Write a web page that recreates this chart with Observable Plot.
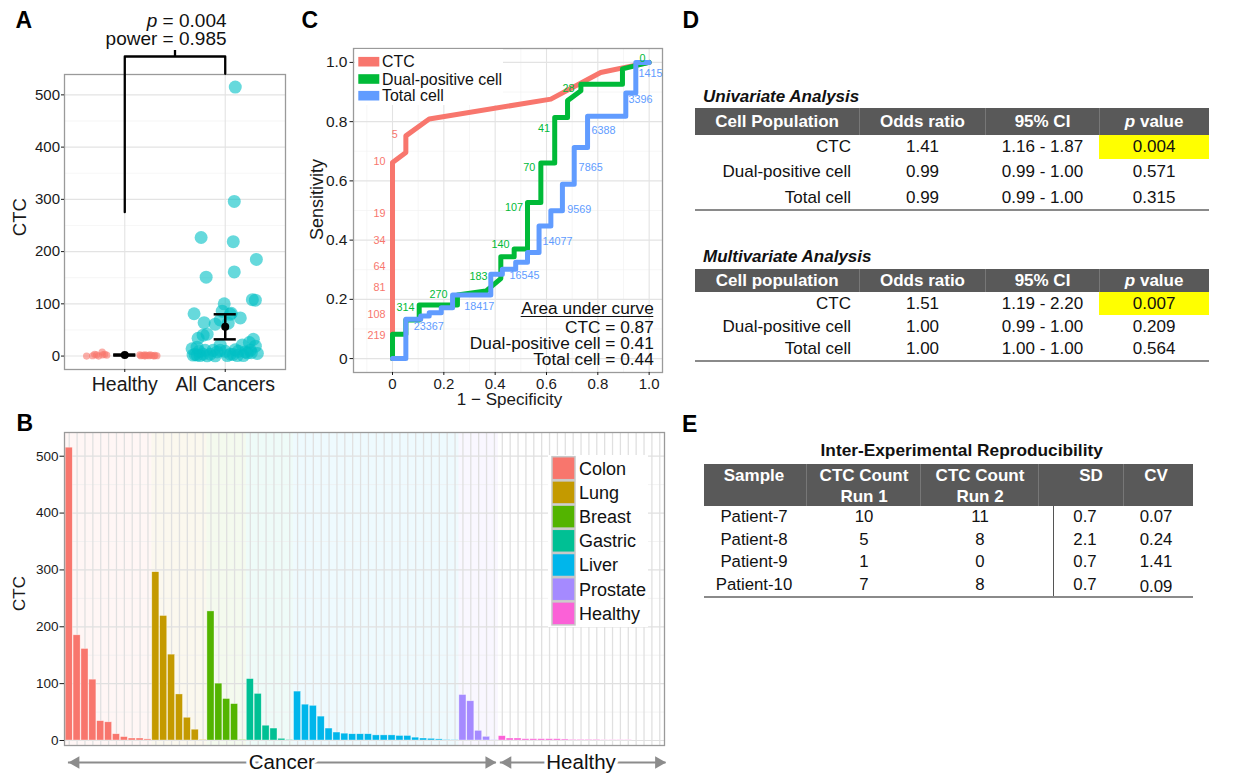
<!DOCTYPE html>
<html><head><meta charset="utf-8">
<script src="https://cdn.jsdelivr.net/npm/d3@7"></script>
<script src="https://cdn.jsdelivr.net/npm/@observablehq/plot@0.6"></script>
<style>
html,body{margin:0;padding:0;background:#fff;overflow:hidden;}
#page{position:relative;width:1244px;height:774px;overflow:hidden;font-family:"Liberation Sans",Arial,Helvetica,sans-serif;color:#111;}
.panel{position:absolute;}
.panel svg{display:block;overflow:visible;}
</style></head>
<body><div id="page"></div>
<script>
// ================= DATA =================
// Panel B / A : CTC counts per sample, by group
const groupNames = ["Colon","Lung","Breast","Gastric","Liver","Prostate","Healthy"];
const groupColors = ["#F8766D","#C49A00","#53B400","#00C094","#00B6EB","#A58AFF","#FB61D7"];
const colonCTC = [515,185,161,107,34,32,11,6,3.5,3.5,2];
const lungCTC = [296,219,151,81,40,19,1];
const breastCTC = [227,100,73,64,1];
const gastricCTC = [108,82,26,21,3,1];
const liverCTC = [86,63,61,42,21,14,12,11,11,11,9,9,9,8,8,5,3.5,3,2,1,0.5];
const prostateCTC = [80,69,17,6.5,0.5];
const healthyCTC = [7.6,3.5,3.5,2.3,2.3,2.3,2.3,2.3,1.8,1.2,1.2,1.2,1.2,0.6,0.6,0.6,0.6,0,0,0,0];

// Panel A
const aCategories = ["Healthy","All Cancers"];
const healthyJitter = [-0.225,-0.3,-0.2,-0.28,-0.22,0.15,0.2,0.25,-0.18,0.3,0.18,0.22,0.27,-0.32,0.32,0.16,0.24,-0.38,-0.26,0.29,0.2];
const cancerJitter = [0.10,0.31,0.09,0.30,-0.27,0.28,-0.05,0.22,-0.15,0.05,-0.28,
  0.09,0.08,-0.19,-0.31,-0.22,0.30,-0.25,
  -0.24,-0.01,0.15,-0.21,0.12,
  0.27,0.06,0.24,-0.05,-0.30,0.02,
  -0.03,0.03,-0.10,-0.18,0.17,-0.33,0.10,-0.20,0.25,-0.12,0.13,-0.26,0.0,0.20,-0.08,0.32,-0.22,0.08,-0.32,0.18,-0.10,
  0.05,-0.05,-0.28,0.26,-0.18];
const aMean = [2, 56];
const aLow = [1, 32];
const aHigh = [3, 80];
const sigText = ["p = 0.004", "power = 0.985"];
const sigTextY = [641, 607.4];
const bracketY = [275.5, 573.5, 540.4];
const bracketTickY = 585;

// Panel C : ROC curves
const rocSeries = ["CTC","Dual-positive cell","Total cell"];
const rocColors = ["#F8766D","#00BA38","#619CFF"];
const ctcFPR = [0,0,0.052,0.052,0.143,0.617,0.811,1.0];
const ctcTPR = [0,0.662,0.696,0.752,0.809,0.876,0.966,1.0];
const dualFPR = [0,0,0.052,0.052,0.104,0.104,0.253,0.253,0.364,0.422,0.422,0.474,0.474,0.526,0.526,0.578,0.578,0.632,0.632,0.682,0.682,0.734,0.734,0.896,0.896,1.0];
const dualTPR = [0,0.082,0.082,0.13,0.13,0.181,0.181,0.215,0.228,0.27,0.344,0.344,0.37,0.37,0.527,0.527,0.66,0.66,0.814,0.814,0.871,0.904,0.926,0.926,0.978,1.0];
const totalFPR = [0,0.052,0.052,0.110,0.110,0.143,0.143,0.19,0.19,0.234,0.234,0.383,0.383,0.428,0.428,0.48,0.48,0.526,0.526,0.571,0.571,0.617,0.617,0.662,0.662,0.708,0.708,0.76,0.76,0.909,0.909,0.948,0.948,1.0];
const totalTPR = [0,0,0.133,0.133,0.144,0.144,0.155,0.155,0.172,0.172,0.215,0.215,0.285,0.285,0.302,0.302,0.325,0.325,0.358,0.358,0.448,0.448,0.499,0.499,0.589,0.589,0.713,0.713,0.818,0.818,0.897,0.897,1.0,1.0];
const ctcCutoffs = ["5","10","19","34","64","81","108","219"];
const ctcCutoffX = [0.02,-0.027,-0.027,-0.027,-0.027,-0.027,-0.027,-0.027];
const ctcCutoffY = [0.756,0.666,0.489,0.399,0.311,0.239,0.149,0.078];
const dualCutoffs = ["314","270","183","140","107","70","41","28","0"];
const dualCutoffX = [0.051,0.179,0.335,0.421,0.473,0.533,0.59,0.686,0.974];
const dualCutoffY = [0.171,0.216,0.278,0.384,0.509,0.644,0.778,0.913,1.012];
const totalCutoffs = ["23367","18417","16545","14077","9569","7865","6388","3396","1415"];
const totalCutoffX = [0.1415,0.338,0.514,0.643,0.728,0.772,0.822,0.966,1.005];
const totalCutoffY = [0.108,0.177,0.281,0.396,0.503,0.644,0.77,0.875,0.964];
const aucTitle = "Area under curve";
const aucValues = [0.87, 0.41, 0.44];

// Panel D : logistic regression tables
const dHeaderUni = ["Cell Population","Odds ratio","95% CI","p value"];
const dHeaderMulti = ["Cell population","Odds ratio","95% CI","p value"];
const dPopulations = ["CTC","Dual-positive cell","Total cell"];
const uniOdds = ["1.41","0.99","0.99"];
const uniCI = ["1.16 - 1.87","0.99 - 1.00","0.99 - 1.00"];
const uniP = ["0.004","0.571","0.315"];
const multiOdds = ["1.51","1.00","1.00"];
const multiCI = ["1.19 - 2.20","0.99 - 1.00","1.00 - 1.00"];
const multiP = ["0.007","0.209","0.564"];

// Panel E : reproducibility table
const eTitle = "Inter-Experimental Reproducibility";
const eHeader = [["Sample",""],["CTC Count","Run 1"],["CTC Count","Run 2"],["SD",""],["CV",""]];
const eSamples = ["Patient-7","Patient-8","Patient-9","Patient-10"];
const eRun1 = [10,5,1,7];
const eRun2 = [11,8,0,8];
const eSD = ["0.7","2.1","0.7","0.7"];
const eCV = ["0.07","0.24","1.41","0.09"];

// ================= HELPERS =================
const FONT = '"Liberation Sans", Arial, Helvetica, sans-serif';
const page = document.getElementById("page");
const baseStyle = {fontFamily: FONT, background: "transparent", color: "#1a1a1a", overflow: "visible"};
const MAJOR = {stroke: "#e3e3e3", strokeOpacity: 1, strokeWidth: 1.1};
const MINOR = {stroke: "#f0f0f0", strokeOpacity: 1, strokeWidth: 0.6};
const FRAME = {stroke: "#9a9a9a", strokeWidth: 1.3};

function place(el, left, top, w, h) {
  const d = document.createElement("div");
  d.className = "panel";
  d.style.left = left + "px"; d.style.top = top + "px";
  d.style.width = w + "px"; d.style.height = h + "px";
  d.appendChild(el); page.appendChild(d);
}
function txt(content, x, y, o = {}) {
  const {anchor = "middle", size = 17, weight = "normal", italic = false, color = "#111", html = false} = o;
  const d = document.createElement("div"), s = d.style;
  s.position = "absolute"; s.whiteSpace = "nowrap";
  s.fontSize = size + "px"; s.lineHeight = size + "px"; s.height = size + "px";
  s.fontWeight = weight; s.fontStyle = italic ? "italic" : "normal"; s.color = color;
  s.top = (y - size / 2) + "px";
  if (anchor === "middle") { s.left = x + "px"; s.transform = "translateX(-50%)"; }
  else if (anchor === "end") { s.right = (1244 - x) + "px"; }
  else { s.left = x + "px"; }
  if (html) d.innerHTML = content; else d.textContent = content;
  page.appendChild(d);
}
function box(x, y, w, h, color) {
  const d = document.createElement("div"), s = d.style;
  s.position = "absolute"; s.left = x + "px"; s.top = y + "px"; s.width = w + "px"; s.height = h + "px"; s.background = color;
  page.appendChild(d);
}
const CENTER = {textAnchor: "middle", lineAnchor: "middle"};

// ================= PANEL A =================
const cancerCTC = [].concat(colonCTC, lungCTC, breastCTC, gastricCTC, liverCTC, prostateCTC);
const healthyPts = healthyCTC.map((v, i) => ({x: 1 + healthyJitter[i], y: v}));
const cancerPts = cancerCTC.map((v, i) => ({x: 2 + cancerJitter[i], y: v}));
const summary = aCategories.map((c, i) => ({x: i + 1, mean: aMean[i], lo: aLow[i], hi: aHigh[i]}));
const bracket = [{x: 1, y: bracketY[0]}, {x: 1, y: bracketY[1]}, {x: 2, y: bracketY[1]}, {x: 2, y: bracketY[2]}];
const capHalf = 0.11;

const plotA = Plot.plot({
  width: 300, height: 400, marginLeft: 64, marginRight: 15, marginTop: 74, marginBottom: 31,
  x: {domain: [0.4, 2.6]}, y: {domain: [-25.7, 539]},
  style: baseStyle,
  marks: [
    Plot.gridY([50, 150, 250, 350, 450], MINOR),
    Plot.gridY([0, 100, 200, 300, 400, 500], MAJOR),
    Plot.gridX([1, 2], MAJOR),
    Plot.frame(FRAME),
    Plot.axisY({ticks: [0, 100, 200, 300, 400, 500], tickSize: 3, tickPadding: 1.5, fontSize: 15, label: null}),
    Plot.axisX({ticks: [1, 2], tickFormat: d => aCategories[d - 1], tickSize: 3, tickPadding: 4.5, fontSize: 19.5, label: null}),
    Plot.text(["CTC"], {text: d => d, frameAnchor: "left", rotate: -90, dx: -44, dy: -4.8, fontSize: 18.5, ...CENTER}),
    Plot.dot(healthyPts, {x: "x", y: "y", r: 3.6, fill: "#F8766D", fillOpacity: 0.6}),
    Plot.dot(cancerPts, {x: "x", y: "y", r: 6.5, fill: "#00BFC4", fillOpacity: 0.6}),
    Plot.ruleX(summary, {x: "x", y1: "lo", y2: "hi", stroke: "black", strokeWidth: 2.5}),
    Plot.ruleY(summary, {y: "lo", x1: d => d.x - capHalf, x2: d => d.x + capHalf, stroke: "black", strokeWidth: 2.5}),
    Plot.ruleY(summary, {y: "hi", x1: d => d.x - capHalf, x2: d => d.x + capHalf, stroke: "black", strokeWidth: 2.5}),
    Plot.dot(summary, {x: "x", y: "mean", r: 4, fill: "black"}),
    Plot.line(bracket, {x: "x", y: "y", stroke: "black", strokeWidth: 2.3}),
    Plot.ruleX([1.5], {x: d => d, y1: bracketY[1], y2: bracketTickY, stroke: "black", strokeWidth: 2.3}),
    Plot.text(sigText, {text: d => d, x: 2.013, y: (d, i) => sigTextY[i], textAnchor: "end", fontSize: 19, fill: "#111"})
  ]
});
d3.select(plotA).selectAll("text").each(function () {
  if (this.textContent === sigText[0]) {
    const t = d3.select(this);
    t.text(null);
    t.append("tspan").attr("font-style", "italic").text(sigText[0].slice(0, 1));
    t.append("tspan").text(sigText[0].slice(1));
  }
});
place(plotA, 0, 0, 300, 400);

// ================= PANEL B =================
const groupValues = [colonCTC, lungCTC, breastCTC, gastricCTC, liverCTC, prostateCTC, healthyCTC];
const samples = [], spans = [];
groupValues.forEach((vals, gi) => {
  const start = samples.length;
  vals.forEach(v => samples.push({i: samples.length, group: groupNames[gi], v}));
  spans.push({group: groupNames[gi], start, end: samples.length - 1});
});
const N = samples.length;
const xDomB = [-0.6, N - 1 + 0.6];
const yDomB = [-8.8, 541.7];
const B = {w: 680, h: 374, ml: 64, mr: 16, mt: 32, mb: 29, top: 400};
const stepB = (B.w - B.ml - B.mr) / (xDomB[1] - xDomB[0]);
const pxuB = (B.h - B.mt - B.mb) / (yDomB[1] - yDomB[0]);
const bx = px => xDomB[0] + (px - B.ml) / stepB;                  // page x -> index
const by = py => yDomB[1] - (py - B.top - B.mt) / pxuB;          // page y -> value

const cancerSpan = {a: spans[0].start, b: spans[5].end};
const healthySpan = {a: spans[6].start, b: spans[6].end};
const arrowY = by(762);
const arrowLines = [
  {label: "Cancer", a: cancerSpan.a - 0.1, b: cancerSpan.b + 0.25, mid: (cancerSpan.a + cancerSpan.b) / 2},
  {label: "Healthy", a: healthySpan.a - 0.25, b: healthySpan.b + 0.8, mid: (healthySpan.a + healthySpan.b) / 2}
];
const headOff = 7.3 / stepB;
const arrowHeads = arrowLines.flatMap(d => [{x: d.a + headOff, rot: -90}, {x: d.b - headOff, rot: 90}]);
const legendB = groupNames.map((g, k) => ({g, top: 456.7 + 24.2 * k}));

const plotB = Plot.plot({
  width: B.w, height: B.h, marginLeft: B.ml, marginRight: B.mr, marginTop: B.mt, marginBottom: B.mb,
  x: {domain: xDomB, axis: null}, y: {domain: yDomB},
  color: {domain: groupNames, range: groupColors},
  style: baseStyle,
  marks: [
    Plot.rect(spans.filter(s => s.group !== "Healthy"), {
      x1: s => s.start === 0 ? xDomB[0] : s.start - 0.5, x2: s => s.end + 0.5,
      y1: yDomB[0], y2: yDomB[1], fill: "group", fillOpacity: 0.065
    }),
    Plot.gridY([50, 150, 250, 350, 450], {stroke: "#ececec", strokeOpacity: 1, strokeWidth: 0.7}),
    Plot.gridY([0, 100, 200, 300, 400, 500], {stroke: "#e0e0e0", strokeOpacity: 1, strokeWidth: 1.2}),
    Plot.ruleX(samples, {x: "i", stroke: "#e0e0e0", strokeWidth: 1.3}),
    Plot.rect(samples, {x1: d => d.i - 0.45, x2: d => d.i + 0.45, y1: 0, y2: "v", fill: "group", stroke: "white", strokeWidth: 0.6, strokeOpacity: 0.6}),
    Plot.frame(FRAME),
    Plot.axisY({ticks: [0, 100, 200, 300, 400, 500], tickSize: 4.5, tickPadding: 1.5, fontSize: 13.5, label: null}),
    Plot.text(["CTC"], {text: d => d, frameAnchor: "left", rotate: -90, dx: -45, dy: 4.5, fontSize: 17, ...CENTER}),
    // legend
    Plot.rect([0], {x1: bx(548), x2: bx(648), y1: by(627), y2: by(455), fill: "white"}),
    Plot.rect(legendB, {x1: bx(552), x2: bx(575), y1: d => by(d.top + 23), y2: d => by(d.top), fill: "g", stroke: "#c8c8c8", strokeWidth: 1.5}),
    Plot.text(legendB, {x: bx(578.5), y: d => by(d.top + 11.6), text: "g", textAnchor: "start", fontSize: 18, fill: "#111"}),
    // group arrows
    Plot.ruleY(arrowLines, {y: arrowY, x1: "a", x2: "b", stroke: "#8c8c8c", strokeWidth: 2}),
    Plot.dot(arrowHeads, {x: "x", y: arrowY, symbol: "triangle", r: 4.7, fill: "#8c8c8c", rotate: "rot"}),
    Plot.text(arrowLines, {x: "mid", y: arrowY, text: "label", fontSize: 20.5, fill: "#111", stroke: "white", strokeWidth: 7})
  ]
});
place(plotB, 0, B.top, B.w, B.h);

// ================= PANEL C =================
const rocData = [].concat(
  ctcFPR.map((f, i) => ({series: rocSeries[0], fpr: f, tpr: ctcTPR[i]})),
  dualFPR.map((f, i) => ({series: rocSeries[1], fpr: f, tpr: dualTPR[i]})),
  totalFPR.map((f, i) => ({series: rocSeries[2], fpr: f, tpr: totalTPR[i]}))
);
const lab = (names, xs, ys) => names.map((t, i) => ({t, x: xs[i], y: ys[i]}));
const C = {w: 380, h: 400, ml: 53, mr: 18, mt: 48, mb: 28, left: 300};
const xDomC = [-0.152, 1.052], yDomC = [-0.047, 1.047];
const cxu = (C.w - C.ml - C.mr) / (xDomC[1] - xDomC[0]);
const cyu = (C.h - C.mt - C.mb) / (yDomC[1] - yDomC[0]);
const cx = px => xDomC[0] + (px - C.left - C.ml) / cxu;
const cy = py => yDomC[1] - (py - C.mt) / cyu;
const legendC = rocSeries.map((s, k) => ({s, yc: [61.7, 79, 95.7][k]}));
const aucLines = [aucTitle].concat(rocSeries.map((s, i) => `${s} = ${aucValues[i].toFixed(2)}`));
const aucYs = [308.3, 326.7, 342.7, 358.7];
const tickFmt = d => d === 0 ? "0" : d.toFixed(1);

const plotC = Plot.plot({
  width: C.w, height: C.h, marginLeft: C.ml, marginRight: C.mr, marginTop: C.mt, marginBottom: C.mb,
  x: {domain: xDomC}, y: {domain: yDomC},
  color: {domain: rocSeries, range: rocColors},
  style: baseStyle,
  marks: [
    Plot.gridX([-0.1, 0.1, 0.3, 0.5, 0.7, 0.9], MINOR),
    Plot.gridY([0.1, 0.3, 0.5, 0.7, 0.9], MINOR),
    Plot.gridX([0, 0.2, 0.4, 0.6, 0.8, 1], MAJOR),
    Plot.gridY([0, 0.2, 0.4, 0.6, 0.8, 1], MAJOR),
    Plot.frame(FRAME),
    Plot.axisY({ticks: [0, 0.2, 0.4, 0.6, 0.8, 1], tickFormat: tickFmt, tickSize: 3.5, tickPadding: 2.5, fontSize: 15.5, label: null}),
    Plot.axisX({ticks: [0, 0.2, 0.4, 0.6, 0.8, 1], tickFormat: tickFmt, tickSize: 3, tickPadding: 2.5, fontSize: 15, label: null}),
    Plot.text(["Sensitivity"], {text: d => d, frameAnchor: "left", rotate: -90, dx: -36, dy: -11, fontSize: 18, ...CENTER}),
    Plot.text(["1 \u2212 Specificity"], {text: d => d, frameAnchor: "bottom", dx: 1.5, dy: 27.5, fontSize: 17, ...CENTER}),
    // legend box (drawn under curves)
    Plot.rect([0], {x1: cx(355), x2: cx(503), y1: cy(105), y2: cy(49), fill: "white"}),
    Plot.rect(legendC, {x1: cx(358.3), x2: cx(379.3), y1: d => cy(d.yc + 4.8), y2: d => cy(d.yc - 4.8), fill: "s"}),
    Plot.text(legendC, {x: cx(381.5), y: d => cy(d.yc), text: "s", textAnchor: "start", fontSize: 15.9, fill: "#111"}),
    Plot.line(rocData, {x: "fpr", y: "tpr", z: "series", stroke: "series", strokeWidth: 5, strokeLinejoin: "round"}),
    Plot.text(lab(ctcCutoffs, ctcCutoffX, ctcCutoffY), {x: "x", y: "y", text: "t", textAnchor: "end", fill: rocColors[0], fontSize: 10.8}),
    Plot.text(lab(dualCutoffs, dualCutoffX, dualCutoffY), {x: "x", y: "y", text: "t", fill: rocColors[1], fontSize: 10.8}),
    Plot.text(lab(totalCutoffs, totalCutoffX, totalCutoffY), {x: "x", y: "y", text: "t", fill: rocColors[2], fontSize: 10.8}),
    Plot.text(aucLines, {text: d => d, x: cx(653.3), y: (d, i) => cy(aucYs[i]), textAnchor: "end", fontSize: 17.3, fill: "#111"}),
    Plot.ruleY([0], {y: cy(316), x1: cx(520.7), x2: cx(653.3), stroke: "#111", strokeWidth: 1.2})
  ]
});
place(plotC, C.left, 0, C.w, C.h);

// ================= PANEL D (tables) =================
function statTable(title, titleY, header, headTop, headBot, rowYs, cols, yellowBot, ruleY) {
  const edges = [695, 859.3, 985.7, 1099.3, 1209];
  txt(title, 703, titleY, {anchor: "start", weight: "bold", italic: true, size: 17});
  box(edges[0], headTop, edges[4] - edges[0], headBot - headTop, "#595959");
  [1, 2, 3].forEach(k => box(edges[k] - 0.5, headTop, 1, headBot - headTop, "#777"));
  box(edges[3], headBot, edges[4] - edges[3], yellowBot - headBot, "#ffff00");
  const hc = (headTop + headBot) / 2;
  header.forEach((h, k) => {
    const mid = (edges[k] + edges[k + 1]) / 2;
    const html = h.startsWith("p ") ? `<i>p</i>${h.slice(1)}` : h;
    txt(html, mid, hc, {weight: "bold", color: "#fff", size: 17, html: true});
  });
  rowYs.forEach((y, r) => {
    txt(cols[0][r], 851, y, {anchor: "end", size: 17});
    for (let k = 1; k < 4; k++) txt(cols[k][r], (edges[k] + edges[k + 1]) / 2, y, {size: 17});
  });
  box(edges[0], ruleY - 1, edges[4] - edges[0], 2, "#8a8a8a");
}
statTable("Univariate Analysis", 96.7, dHeaderUni, 108.3, 135, [146.5, 171.5, 197], [dPopulations, uniOdds, uniCI, uniP], 159, 210);
statTable("Multivariate Analysis", 256.7, dHeaderMulti, 269.3, 292.3, [303, 326.7, 348], [dPopulations, multiOdds, multiCI, multiP], 315, 361);

// ================= PANEL E (table) =================
(function () {
  const L = 704, R = 1192.7, hTop = 464, hBot = 506, rule = 597.3;
  const centers = [754, 864, 980, 1088, 1156];
  txt(eTitle, 961.7, 450.7, {weight: "bold", size: 17.3});
  box(L, hTop, R - L, hBot - hTop, "#595959");
  [806.7, 920, 1038.3, 1123.3].forEach(x => box(x - 0.5, hTop, 1, hBot - hTop, "#777"));
  eHeader.forEach((h, k) => {
    if (h[1]) { txt(h[0], centers[k], 475, {weight: "bold", color: "#fff", size: 17}); txt(h[1], centers[k], 496, {weight: "bold", color: "#fff", size: 17}); }
    else txt(h[0], centers[k] + (k === 3 ? 3 : 0), 475, {weight: "bold", color: "#fff", size: 17});
  });
  const rowYs = [517, 540.5, 562, 585.5];
  rowYs.forEach((y, r) => {
    txt(eSamples[r], centers[0], y, {size: 16.8});
    txt(String(eRun1[r]), centers[1], y, {size: 16.8});
    txt(String(eRun2[r]), centers[2], y, {size: 16.8});
    txt(eSD[r], centers[3] - 3, y, {size: 16.8});
    txt(eCV[r], centers[4], y + (r === 3 ? 2 : 0), {size: 16.8});
  });
  box(1052.5, hBot, 1.6, rule - hBot, "#555");
  box(L, rule - 1, R - L, 2, "#8a8a8a");
})();

// ================= PANEL LETTERS =================
[["A", 15.5, 20.3], ["B", 16.5, 423.4], ["C", 301.5, 20.3], ["D", 682.5, 20.8], ["E", 682, 424.2]].forEach(([t, x, y]) =>
  txt(t, x, y, {anchor: "start", weight: "bold", size: 23, color: "#000"}));
</script>
</body></html>
